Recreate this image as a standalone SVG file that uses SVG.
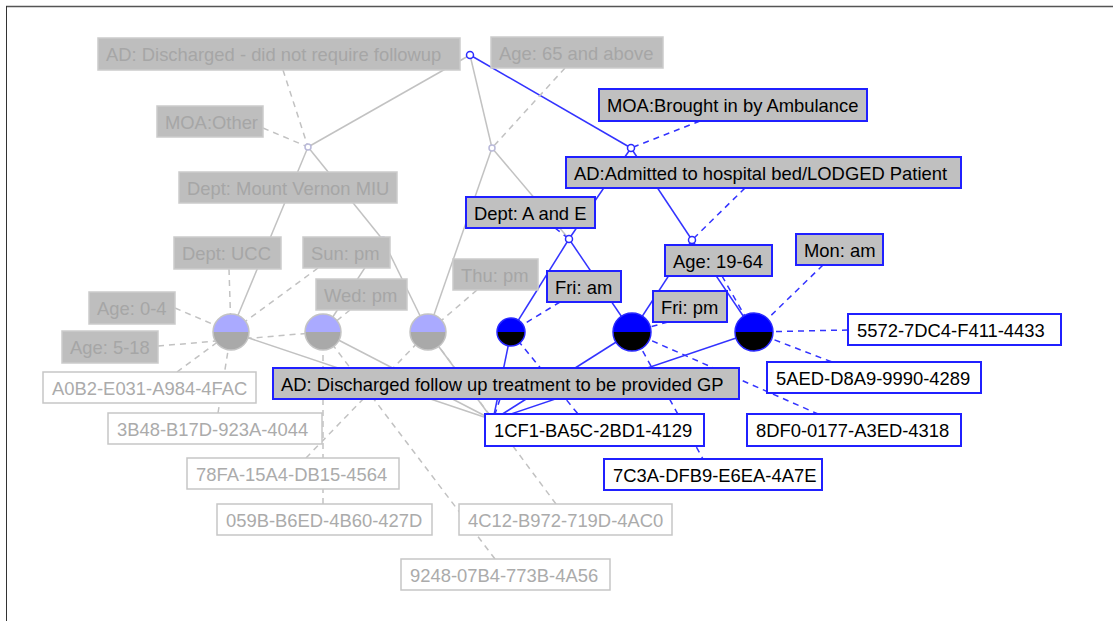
<svg xmlns="http://www.w3.org/2000/svg" width="1113" height="621" viewBox="0 0 1113 621">
  <style>
    text { font-family: "Liberation Sans", Arial, sans-serif; font-size: 18.4px; }
    .lbl rect { fill: #c0c0c0; stroke: #2020ff; stroke-width: 2; }
    .lbl text { fill: #000; }
    .obj rect { fill: #fff; stroke: #2020ff; stroke-width: 2; }
    .obj text { fill: #000; }
    .flbl rect { fill: #bebebe; stroke: #cbcbcb; stroke-width: 1.5; }
    .flbl text { fill: #a6a6a6; }
    .fobj rect { fill: #fff; stroke: #c6c6c6; stroke-width: 1.5; }
    .fobj text { fill: #ababab; }
    .e { fill: none; stroke-width: 1.5; }
    .eg { stroke: #c2c2c2; }
    .eb { stroke: #3333ff; }
    .d { stroke-dasharray: 6 5; }
    .jb { fill: #fff; stroke: #2a2aff; stroke-width: 1.5; }
    .jg { fill: #fff; stroke: #b9b9d9; stroke-width: 1.5; }
  </style>
  <defs>
    <clipPath id="top"><rect x="-30" y="-30" width="60" height="30"/></clipPath>
  </defs>

  <rect x="0" y="0" width="1113" height="621" fill="#fff"/>
  <!-- frame -->
  <line x1="6" y1="6.5" x2="1113" y2="6.5" stroke="#555" stroke-width="1.5"/>
  <line x1="6.5" y1="6" x2="6.5" y2="621" stroke="#333" stroke-width="1"/>

  <g id="connectors">
    <!-- lattice edges, faded -->
    <g class="e eg">
      <line x1="470" y1="55" x2="308" y2="147"/>
      <line x1="470" y1="55" x2="492" y2="148"/>
      <line x1="308" y1="147" x2="231" y2="332"/>
      <line x1="308" y1="147" x2="383" y2="240"/>
      <line x1="383" y1="240" x2="323" y2="332"/>
      <line x1="383" y1="240" x2="428" y2="332"/>
      <line x1="492" y1="148" x2="428" y2="332"/>
      <line x1="492" y1="148" x2="569" y2="239"/>
      <line x1="231" y1="332" x2="493" y2="420"/>
      <line x1="323" y1="332" x2="493" y2="420"/>
      <line x1="428" y1="332" x2="493" y2="420"/>
    </g>
    <!-- lattice edges, highlighted -->
    <g class="e eb">
      <line x1="470" y1="55" x2="631" y2="148"/>
      <line x1="631" y1="148" x2="569" y2="239"/>
      <line x1="631" y1="148" x2="692" y2="240"/>
      <line x1="569" y1="239" x2="511" y2="332"/>
      <line x1="569" y1="239" x2="632" y2="332"/>
      <line x1="692" y1="240" x2="632" y2="332"/>
      <line x1="692" y1="240" x2="754" y2="332"/>
      <line x1="511" y1="332" x2="493" y2="420"/>
      <line x1="632" y1="332" x2="493" y2="420"/>
      <line x1="754" y1="332" x2="493" y2="420"/>
    </g>
    <!-- attribute / object links, faded -->
    <g class="e eg d">
      <line x1="283" y1="70" x2="308" y2="147"/>
      <line x1="263" y1="128" x2="308" y2="147"/>
      <line x1="565" y1="68" x2="492" y2="148"/>
      <line x1="229" y1="269" x2="231" y2="332"/>
      <line x1="318" y1="268" x2="231" y2="332"/>
      <line x1="350" y1="310" x2="323" y2="332"/>
      <line x1="477" y1="290" x2="428" y2="332"/>
      <line x1="175" y1="308" x2="231" y2="332"/>
      <line x1="158" y1="346" x2="323" y2="332"/>
      <line x1="177" y1="372" x2="231" y2="332"/>
      <line x1="218" y1="413" x2="231" y2="332"/>
      <line x1="323" y1="504" x2="323" y2="332"/>
      <line x1="495" y1="559" x2="323" y2="332"/>
      <line x1="306" y1="458" x2="428" y2="332"/>
      <line x1="556" y1="504" x2="428" y2="332"/>
    </g>
    <!-- attribute / object links, highlighted -->
    <g class="e eb d">
      <line x1="700" y1="121" x2="631" y2="148"/>
      <line x1="745" y1="188" x2="692" y2="240"/>
      <line x1="555" y1="228" x2="569" y2="239"/>
      <line x1="560" y1="302" x2="511" y2="332"/>
      <line x1="668" y1="322" x2="632" y2="332"/>
      <line x1="722" y1="276" x2="754" y2="332"/>
      <line x1="823" y1="265" x2="754" y2="332"/>
      <line x1="500" y1="399" x2="493" y2="420"/>
      <line x1="754" y1="332" x2="848" y2="330"/>
      <line x1="754" y1="332" x2="832" y2="362"/>
      <line x1="632" y1="332" x2="818" y2="414"/>
      <line x1="632" y1="332" x2="703" y2="459"/>
      <line x1="511" y1="332" x2="578" y2="414"/>
    </g>
  </g>

  <!-- concept junctions -->
  <g id="j-top"><circle class="jb" cx="470" cy="55" r="3.5"/></g>
  <g id="j-other"><circle class="jg" cx="308" cy="147" r="3"/></g>
  <g id="j-age65"><circle class="jg" cx="492" cy="148" r="3"/></g>
  <g id="j-ambulance"><circle class="jb" cx="631" cy="148" r="3.5"/></g>
  <g id="j-ae"><circle class="jb" cx="569" cy="239" r="3.5"/></g>
  <g id="j-admitted"><circle class="jb" cx="692" cy="240" r="3.5"/></g>
  <g id="j-mv"><circle class="jg" cx="383" cy="240" r="3"/></g>

  <!-- attribute labels, faded -->
  <g id="n-ad-nofollow" class="flbl"><rect x="98" y="38" width="362" height="32"/><text x="106" y="61">AD: Discharged - did not require followup</text></g>
  <g id="n-age65" class="flbl"><rect x="491" y="37" width="172" height="31"/><text x="499" y="60">Age: 65 and above</text></g>
  <g id="n-moa-other" class="flbl"><rect x="157" y="106" width="106" height="31"/><text x="165" y="129">MOA:Other</text></g>
  <g id="n-dept-mv" class="flbl"><rect x="179" y="172" width="218" height="31"/><text x="187" y="195">Dept: Mount Vernon MIU</text></g>
  <g id="n-dept-ucc" class="flbl"><rect x="174" y="237" width="107" height="32"/><text x="182" y="260">Dept: UCC</text></g>
  <g id="n-sun-pm" class="flbl"><rect x="303" y="237" width="87" height="31"/><text x="311" y="260">Sun: pm</text></g>
  <g id="n-thu-pm" class="flbl"><rect x="453" y="259" width="85" height="31"/><text x="461" y="282">Thu: pm</text></g>
  <g id="n-wed-pm" class="flbl"><rect x="316" y="279" width="91" height="31"/><text x="324" y="302">Wed: pm</text></g>
  <g id="n-age0-4" class="flbl"><rect x="89" y="292" width="86" height="32"/><text x="97" y="315">Age: 0-4</text></g>
  <g id="n-age5-18" class="flbl"><rect x="62" y="331" width="96" height="32"/><text x="70" y="354">Age: 5-18</text></g>

  <!-- object labels, faded -->
  <g id="o-a0b2" class="fobj"><rect x="43" y="372" width="213" height="31"/><text x="52" y="395">A0B2-E031-A984-4FAC</text></g>
  <g id="o-3b48" class="fobj"><rect x="108" y="413" width="214" height="31"/><text x="117" y="436">3B48-B17D-923A-4044</text></g>
  <g id="o-78fa" class="fobj"><rect x="187" y="458" width="212" height="31"/><text x="196" y="481">78FA-15A4-DB15-4564</text></g>
  <g id="o-059b" class="fobj"><rect x="217" y="504" width="215" height="31"/><text x="226" y="527">059B-B6ED-4B60-427D</text></g>
  <g id="o-4c12" class="fobj"><rect x="459" y="504" width="213" height="31"/><text x="468" y="527">4C12-B972-719D-4AC0</text></g>
  <g id="o-9248" class="fobj"><rect x="401" y="559" width="209" height="31"/><text x="410" y="582">9248-07B4-773B-4A56</text></g>

  <!-- attribute labels, highlighted -->
  <g id="n-moa-amb" class="lbl"><rect x="599" y="89" width="268" height="32"/><text x="607" y="112">MOA:Brought in by Ambulance</text></g>
  <g id="n-ad-admitted" class="lbl"><rect x="566" y="157" width="395" height="31"/><text x="574" y="180">AD:Admitted to hospital bed/LODGED Patient</text></g>
  <g id="n-dept-ae" class="lbl"><rect x="466" y="197" width="129" height="31"/><text x="474" y="220">Dept: A and E</text></g>
  <g id="n-age19-64" class="lbl"><rect x="665" y="245" width="107" height="31"/><text x="673" y="268">Age: 19-64</text></g>
  <g id="n-mon-am" class="lbl"><rect x="796" y="234" width="87" height="31"/><text x="804" y="257">Mon: am</text></g>
  <g id="n-fri-am" class="lbl"><rect x="547" y="271" width="74" height="31"/><text x="555" y="294">Fri: am</text></g>
  <g id="n-fri-pm" class="lbl"><rect x="653" y="291" width="74" height="31"/><text x="661" y="314">Fri: pm</text></g>
  <g id="n-ad-gp" class="lbl"><rect x="273" y="368" width="466" height="31"/><text x="281" y="391">AD: Discharged follow up treatment to be provided GP</text></g>

  <!-- object labels, highlighted -->
  <g id="o-5572" class="obj"><rect x="848" y="314" width="213" height="31"/><text x="857" y="337">5572-7DC4-F411-4433</text></g>
  <g id="o-5aed" class="obj"><rect x="767" y="362" width="214" height="31"/><text x="776" y="385">5AED-D8A9-9990-4289</text></g>
  <g id="o-8df0" class="obj"><rect x="747" y="414" width="214" height="32"/><text x="756" y="437">8DF0-0177-A3ED-4318</text></g>
  <g id="o-1cf1" class="obj"><rect x="485" y="414" width="219" height="32"/><text x="494" y="437">1CF1-BA5C-2BD1-4129</text></g>
  <g id="o-7c3a" class="obj"><rect x="604" y="459" width="218" height="31"/><text x="613" y="482">7C3A-DFB9-E6EA-4A7E</text></g>

  <!-- object concepts (half-filled discs) -->
  <g id="c-1" transform="translate(231 332)">
    <circle r="18" fill="#a9a9a9"/><circle r="18" fill="#aaaaff" clip-path="url(#top)"/>
    <circle r="18" fill="none" stroke="#c4c4c4" stroke-width="1.5"/>
  </g>
  <g id="c-2" transform="translate(323 332)">
    <circle r="18" fill="#a9a9a9"/><circle r="18" fill="#aaaaff" clip-path="url(#top)"/>
    <circle r="18" fill="none" stroke="#c4c4c4" stroke-width="1.5"/>
  </g>
  <g id="c-3" transform="translate(428 332)">
    <circle r="18" fill="#a9a9a9"/><circle r="18" fill="#aaaaff" clip-path="url(#top)"/>
    <circle r="18" fill="none" stroke="#c4c4c4" stroke-width="1.5"/>
  </g>
  <g id="c-4" transform="translate(511 332)">
    <circle r="14" fill="#000"/><circle r="14" fill="#0000ff" clip-path="url(#top)"/>
    <circle r="14" fill="none" stroke="#2a2aff" stroke-width="1.5"/>
  </g>
  <g id="c-5" transform="translate(632 332)">
    <circle r="19" fill="#000"/><circle r="19" fill="#0000ff" clip-path="url(#top)"/>
    <circle r="19" fill="none" stroke="#2a2aff" stroke-width="1.5"/>
  </g>
  <g id="c-6" transform="translate(754 332)">
    <circle r="19" fill="#000"/><circle r="19" fill="#0000ff" clip-path="url(#top)"/>
    <circle r="19" fill="none" stroke="#2a2aff" stroke-width="1.5"/>
  </g>
</svg>
